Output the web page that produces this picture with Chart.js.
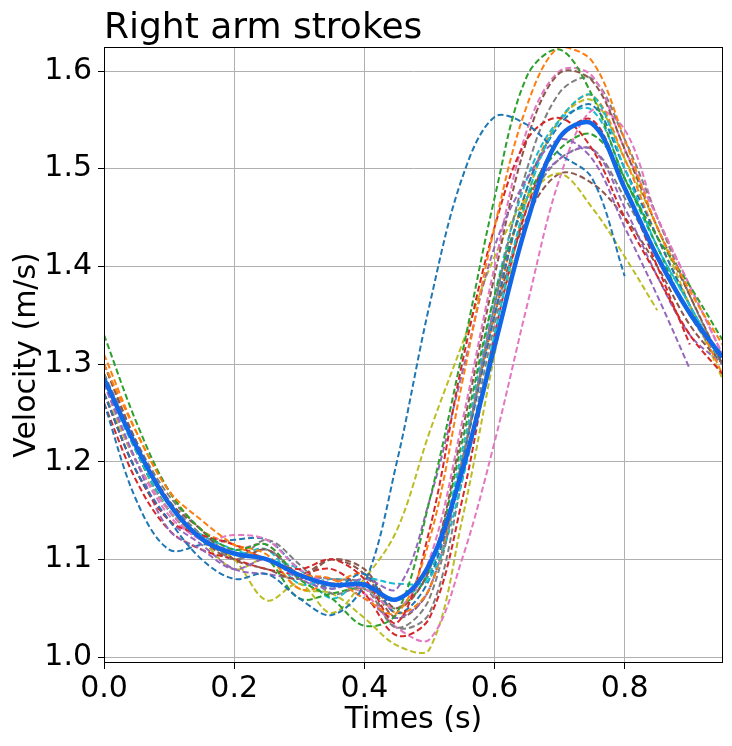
<!DOCTYPE html>
<html>
<head>
<meta charset="utf-8">
<script src="https://cdn.jsdelivr.net/npm/chart.js@4"></script>
<style>
  body { margin: 0; background: #fff; }
</style>
</head>
<body>
<canvas id="grafico" width="732" height="746"></canvas>
<script>
// tiempos (s) compartidos por todas las brazadas
var tiempos = [0, 0.05, 0.1, 0.15, 0.2, 0.25, 0.3, 0.35, 0.4, 0.45, 0.5, 0.55, 0.6, 0.65, 0.7, 0.75, 0.8, 0.85, 0.9, 0.95];

var azulA    = [1.27, 1.19, 1.14, 1.10, 1.08, 1.085, 1.06, 1.043, 1.075, 1.20, 1.36, 1.49, 1.553, 1.545, 1.515, 1.49, 1.39, null, null, null];
var naranjaA = [1.30, 1.23, 1.17, 1.14, 1.115, 1.10, 1.085, 1.08, 1.06, 1.045, 1.12, 1.28, 1.44, 1.565, 1.625, 1.61, 1.53, 1.44, 1.375, 1.32];
var verdeA   = [1.33, 1.24, 1.17, 1.13, 1.11, 1.115, 1.08, 1.06, 1.032, 1.045, 1.16, 1.31, 1.47, 1.595, 1.622, 1.575, 1.49, 1.43, 1.38, 1.325];
var rojoA    = [1.27, 1.19, 1.14, 1.125, 1.115, 1.10, 1.09, 1.10, 1.08, 1.035, 1.13, 1.30, 1.44, 1.53, 1.552, 1.52, 1.45, 1.39, 1.33, 1.29];
var moradoA  = [1.28, 1.20, 1.13, 1.11, 1.09, 1.10, 1.08, 1.07, 1.08, 1.07, 1.16, 1.29, 1.42, 1.49, 1.53, 1.51, 1.44, 1.37, 1.295, null];
var marronA  = [1.30, 1.22, 1.16, 1.13, 1.10, 1.09, 1.08, 1.10, 1.09, 1.05, 1.09, 1.23, 1.39, 1.53, 1.598, 1.59, 1.52, 1.44, 1.37, 1.30];
var rosaA    = [1.28, 1.20, 1.15, 1.12, 1.125, 1.12, 1.09, 1.075, 1.07, 1.05, 1.10, 1.24, 1.40, 1.54, 1.60, 1.595, 1.52, 1.45, 1.38, 1.31];
var grisA    = [1.29, 1.22, 1.165, 1.13, 1.10, 1.12, 1.095, 1.065, 1.07, 1.03, 1.06, 1.20, 1.36, 1.50, 1.578, 1.592, 1.53, 1.45, 1.37, 1.30];
var oliva1   = [1.27, 1.20, 1.15, 1.12, 1.10, 1.058, 1.075, 1.045, 1.08, 1.13, 1.23, 1.32, 1.41, 1.47, 1.495, 1.46, 1.41, 1.355, null, null];
var cianA    = [1.28, 1.21, 1.15, 1.125, 1.11, 1.10, 1.09, 1.06, 1.08, 1.075, 1.08, 1.18, 1.33, 1.47, 1.55, 1.575, 1.50, 1.42, 1.36, 1.30];
var azulB    = [1.26, 1.16, 1.11, 1.115, 1.12, 1.12, 1.09, 1.07, 1.085, 1.045, 1.08, 1.20, 1.35, 1.48, 1.545, 1.565, 1.50, 1.43, 1.36, 1.30];
var naranjaB = [1.31, 1.23, 1.17, 1.13, 1.115, 1.105, 1.07, 1.075, 1.085, 1.045, 1.07, 1.20, 1.35, 1.48, 1.55, 1.575, 1.51, 1.43, 1.36, 1.29];
var verdeB   = [1.29, 1.21, 1.15, 1.12, 1.105, 1.10, 1.06, 1.065, 1.07, 1.05, 1.09, 1.22, 1.37, 1.47, 1.52, 1.535, 1.49, 1.42, 1.35, 1.31];
var rojoB    = [1.26, 1.18, 1.13, 1.11, 1.10, 1.09, 1.085, 1.09, 1.065, 1.022, 1.04, 1.16, 1.33, 1.46, 1.53, 1.55, 1.48, 1.40, 1.32, null];
var moradoB  = [1.27, 1.19, 1.14, 1.115, 1.09, 1.085, 1.08, 1.08, 1.06, 1.04, 1.07, 1.20, 1.36, 1.47, 1.51, 1.52, 1.46, 1.39, 1.33, 1.30];
var marronB  = [1.29, 1.21, 1.15, 1.12, 1.10, 1.11, 1.085, 1.10, 1.085, 1.04, 1.07, 1.20, 1.35, 1.45, 1.495, 1.485, 1.45, 1.40, 1.34, 1.30];
var rosaB    = [1.27, 1.20, 1.145, 1.12, 1.11, 1.115, 1.08, 1.075, 1.065, 1.03, 1.018, 1.10, 1.22, 1.36, 1.49, 1.56, 1.54, 1.45, 1.38, 1.31];
var grisB    = [1.30, 1.22, 1.16, 1.125, 1.10, 1.11, 1.085, 1.08, 1.075, 1.03, 1.045, 1.18, 1.34, 1.46, 1.51, 1.52, 1.47, 1.41, 1.35, 1.30];
var oliva2   = [1.29, 1.21, 1.15, 1.12, 1.09, 1.10, 1.07, 1.065, 1.04, 1.012, 1.008, 1.14, 1.31, 1.47, 1.55, 1.57, 1.51, 1.44, 1.36, 1.285];
var cianB    = [1.28, 1.20, 1.15, 1.12, 1.105, 1.11, 1.075, 1.08, 1.075, 1.06, 1.085, 1.21, 1.37, 1.49, 1.55, 1.56, 1.49, 1.42, 1.36, 1.30];

// curva media (línea gruesa)
var media = [1.285, 1.215, 1.157, 1.121, 1.106, 1.100, 1.084, 1.074, 1.074, 1.059, 1.095, 1.19, 1.318, 1.445, 1.532, 1.546, 1.48, 1.41, 1.352, 1.307];

var brazadas = [azulA, naranjaA, verdeA, rojoA, moradoA, marronA, rosaA, grisA, oliva1, cianA,
                azulB, naranjaB, verdeB, rojoB, moradoB, marronB, rosaB, grisB, oliva2, cianB];
var colores = ['#1f77b4', '#ff7f0e', '#2ca02c', '#d62728', '#9467bd', '#8c564b', '#e377c2', '#7f7f7f', '#bcbd22', '#17becf'];

var ticksX = [0, 0.2, 0.4, 0.6, 0.8];
var ticksY = [1.0, 1.1, 1.2, 1.3, 1.4, 1.5, 1.6];

function puntos(valores) {
    return tiempos.map(function (t, i) {
        return { x: t, y: valores[i] };
    });
}

var datasets = [{
    label: 'Media',
    data: puntos(media),
    borderColor: '#1266e8',
    borderWidth: 4.5,
    pointRadius: 0,
    tension: 0.35,
    order: 0
}];
brazadas.forEach(function (serie, i) {
    datasets.push({
        label: 'Brazada ' + (i + 1),
        data: puntos(serie),
        borderColor: colores[i % colores.length],
        borderWidth: 2,
        borderDash: [6, 3],
        pointRadius: 0,
        tension: 0.35,
        order: 1
    });
});

var fuente = '"DejaVu Sans", sans-serif';

// título alineado con el área del gráfico y marco completo
var marco = {
    id: 'marco',
    afterDraw: function (chart) {
        var ctx = chart.ctx;
        var a = chart.chartArea;
        ctx.save();
        ctx.strokeStyle = '#000';
        ctx.lineWidth = 1;
        ctx.strokeRect(Math.round(a.left) + 0.5, Math.round(a.top) + 0.5,
            Math.round(a.right - a.left) - 1, Math.round(a.bottom - a.top) - 1);
        ctx.fillStyle = '#000';
        ctx.font = '36px ' + fuente;
        ctx.textBaseline = 'alphabetic';
        ctx.textAlign = 'left';
        ctx.fillText('Right arm strokes', a.left, 38);
        ctx.restore();
    }
};

new Chart(document.getElementById('grafico'), {
    type: 'line',
    data: { datasets: datasets },
    plugins: [marco],
    options: {
        responsive: false,
        devicePixelRatio: 1,
        animation: false,
        layout: { padding: { top: 47, right: 9, left: 0, bottom: 0 } },
        plugins: {
            legend: { display: false },
            tooltip: { enabled: false }
        },
        scales: {
            x: {
                type: 'linear',
                min: 0,
                max: 0.951,
                afterFit: function (scale) { scale.height = 83; },
                afterBuildTicks: function (scale) {
                    scale.ticks = ticksX.map(function (v) { return { value: v }; });
                },
                grid: { color: '#b0b0b0', lineWidth: 1, tickColor: '#000', tickLength: 6 },
                border: { display: false },
                ticks: {
                    color: '#000',
                    padding: 2,
                    maxRotation: 0,
                    font: { family: fuente, size: 30 },
                    callback: function (v) { return Number(v).toFixed(1); }
                },
                title: {
                    display: true,
                    text: 'Times (s)',
                    color: '#000',
                    font: { family: fuente, size: 30 },
                    padding: { top: 0, bottom: 8 }
                }
            },
            y: {
                type: 'linear',
                min: 0.9939,
                max: 1.6246,
                afterFit: function (scale) { scale.width = 104; },
                afterBuildTicks: function (scale) {
                    scale.ticks = ticksY.map(function (v) { return { value: v }; });
                },
                grid: { color: '#b0b0b0', lineWidth: 1, tickColor: '#000', tickLength: 6 },
                border: { display: false },
                ticks: {
                    color: '#000',
                    padding: 6,
                    font: { family: fuente, size: 30 },
                    callback: function (v) { return Number(v).toFixed(1); }
                },
                title: {
                    display: true,
                    text: 'Velocity (m/s)',
                    color: '#000',
                    font: { family: fuente, size: 30 },
                    padding: { top: 9, bottom: 0 }
                }
            }
        }
    }
});
</script>
</body>
</html>
